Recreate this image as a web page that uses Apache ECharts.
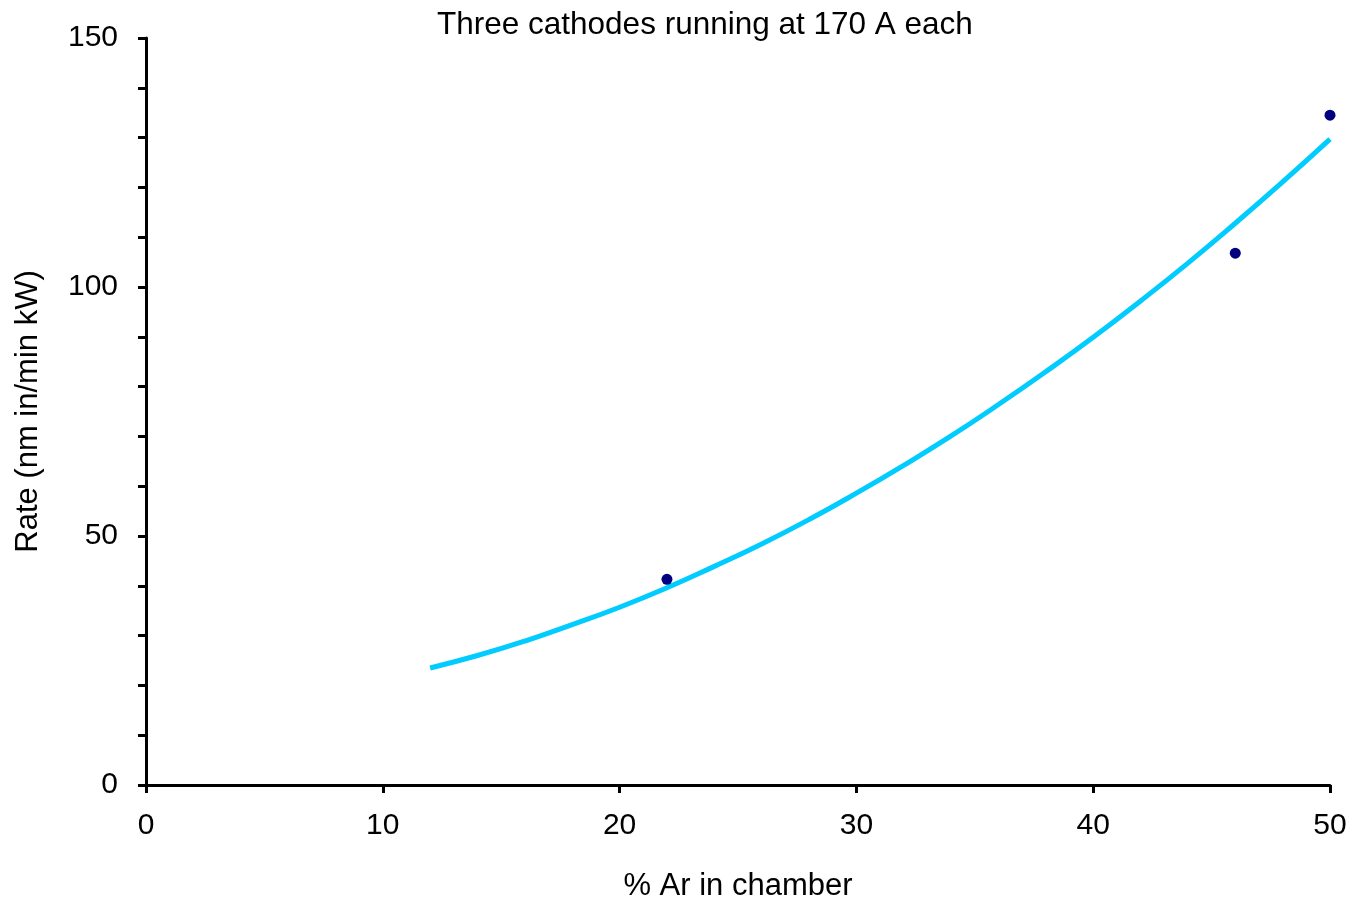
<!DOCTYPE html>
<html>
<head>
<meta charset="utf-8">
<script src="https://cdn.jsdelivr.net/npm/echarts@6/dist/echarts.min.js"></script>
<style>
  html, body { margin: 0; padding: 0; background: #fff; }
  #chart { width: 1356px; height: 902px; }
</style>
</head>
<body>
<div id="chart"></div>
<script>
// measured points
var pointX = [22, 46, 50];
var pointY = [41.3, 106.8, 134.5];

// trend line
var curveX = [12, 14, 16, 18, 20, 22, 24, 26, 28, 30, 32, 34, 36, 38, 40, 42, 44, 46, 48, 50];
var curveY = [23.5, 26.0, 28.9, 32.2, 35.7, 39.6, 43.9, 48.4, 53.3, 58.6, 64.2, 70.1, 76.4, 83.0, 89.9, 97.2, 104.8, 112.8, 121.1, 129.7];

var yTicks = [0, 50, 100, 150];
var xTicks = [0, 10, 20, 30, 40, 50];

var font = 'Liberation Sans, Arial, sans-serif';

var myChart = echarts.init(document.getElementById('chart'));

var points = [];
for (var i = 0; i < pointX.length; i++) {
    points.push([pointX[i], pointY[i]]);
}
var curve = [];
for (var j = 0; j < curveX.length; j++) {
    curve.push([curveX[j], curveY[j]]);
}

var option = {
    animation: false,
    backgroundColor: '#fff',
    title: {
        text: 'Three cathodes running at 170 A each',
        left: 432,
        top: 4,
        textStyle: { fontFamily: font, fontSize: 31.5, fontWeight: 'normal', color: '#000' }
    },
    grid: { left: 146, right: 26, top: 38, bottom: 117, outerBoundsMode: 'none', containLabel: false },
    xAxis: {
        type: 'value',
        min: xTicks[0],
        max: xTicks[xTicks.length - 1],
        interval: 10,
        name: '% Ar in chamber',
        nameLocation: 'middle',
        nameGap: 86,
        nameTextStyle: { fontFamily: font, fontSize: 31, color: '#000' },
        splitLine: { show: false },
        axisLine: { lineStyle: { color: '#000', width: 3 } },
        axisTick: { length: 8, lineStyle: { color: '#000', width: 3 } },
        axisLabel: { fontFamily: font, fontSize: 30, color: '#000', margin: 26 }
    },
    yAxis: {
        type: 'value',
        min: yTicks[0],
        max: yTicks[yTicks.length - 1],
        interval: 50,
        name: 'Rate (nm in/min kW)',
        nameLocation: 'middle',
        nameGap: 102,
        nameTextStyle: { fontFamily: font, fontSize: 31, color: '#000' },
        splitLine: { show: false },
        axisLine: { lineStyle: { color: '#000', width: 3 } },
        axisTick: { length: 8, lineStyle: { color: '#000', width: 3 } },
        minorTick: { show: true, splitNumber: 5, length: 8, lineStyle: { color: '#000', width: 3 } },
        minorSplitLine: { show: false },
        axisLabel: { fontFamily: font, fontSize: 30, color: '#000', margin: 28 }
    },
    series: [
        {
            name: 'trend',
            type: 'line',
            data: curve,
            smooth: true,
            showSymbol: false,
            lineStyle: { color: '#00ccff', width: 5 },
            z: 2
        },
        {
            name: 'data',
            type: 'scatter',
            data: points,
            symbol: 'circle',
            symbolSize: 11,
            itemStyle: { color: '#000080', opacity: 1 },
            z: 3
        }
    ]
};
myChart.setOption(option);
</script>
</body>
</html>
